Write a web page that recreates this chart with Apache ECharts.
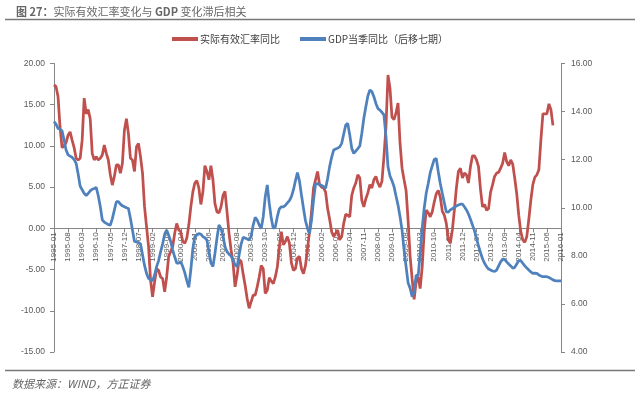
<!DOCTYPE html>
<html><head><meta charset="utf-8">
<script src="https://cdn.jsdelivr.net/npm/echarts@6/dist/echarts.min.js"></script>
<style>html,body{margin:0;padding:0;background:#fff}#c{width:640px;height:396px}</style>
</head><body><div id="c"></div>
<script>
// months 1995-01 .. 2016-01
const categories = [];
for (let y = 1995; y <= 2016; y++) {
  for (let m = 1; m <= 12; m++) {
    if (y === 2016 && m > 1) break;
    categories.push(y + '-' + (m < 10 ? '0' + m : m));
  }
}
const seriesNames = ['实际有效汇率同比', 'GDP当季同比（后移七期）'];
// 实际有效汇率同比 (left axis), 1995-01 .. 2015-09
const reerYoY = [
  17.4,17.2,16.0,12.3,9.8,10.0,10.4,11.3,11.7,10.7,9.8,8.5,
  8.3,8.5,10.7,15.8,13.9,14.4,13.3,9.1,8.3,8.7,8.3,8.5,
  8.9,10.1,9.1,8.3,6.5,5.25,6.3,7.7,7.7,6.7,7.9,11.9,
  13.3,11.5,8.5,8.3,6.9,9.9,10.3,8.7,6.7,2.6,0.2,-2.2,
  -6.3,-8.3,-6.5,-4.9,-5.1,-5.9,-6.1,-7.7,-5.9,-3.4,-2.8,-2.2,
  -0.6,0.6,-0.2,-0.4,-1.6,-1.8,-1.2,0.4,2.6,4.4,5.5,5.8,
  4.9,2.9,4.4,7.6,6.9,5.9,7.6,5.9,3.0,2.0,1.9,2.6,
  4.0,4.5,2.0,-0.6,-2.6,-4.2,-7.1,-5.7,-3.8,-4.0,-5.5,-6.9,
  -8.5,-9.7,-8.9,-8.1,-8.1,-7.1,-5.9,-4.5,-4.9,-7.9,-7.5,-6.0,
  -6.4,-6.7,-5.9,-4.7,-2.2,-0.4,-2.0,-1.6,-1.0,-1.8,-4.2,-5.1,
  -4.9,-3.6,-3.4,-4.9,-5.5,-4.5,-2.5,-0.4,2.0,4.9,5.9,6.9,
  5.3,5.0,4.9,4.4,2.4,1.1,-0.4,-1.0,-0.6,-0.2,-1.4,-1.0,
  0.6,1.7,1.6,1.4,4.0,4.9,5.5,6.5,6.1,3.4,2.6,3.6,
  4.3,5.3,4.9,5.9,6.3,5.5,5.0,5.7,8.7,12.3,18.6,17.0,
  13.5,13.2,14.0,15.2,10.3,7.3,5.9,4.6,1.0,-3.4,-6.1,-8.6,
  -6.5,-5.9,-7.3,-4.7,-0.4,2.2,1.9,1.4,2.0,3.2,4.2,4.6,
  3.8,2.1,1.6,0.6,-1.4,-1.8,-0.2,2.2,4.9,6.9,7.3,6.1,
  6.7,6.5,5.5,7.5,8.8,8.8,8.3,7.5,4.7,2.6,2.9,2.2,
  2.4,4.4,5.3,6.3,6.7,6.8,7.3,7.9,9.2,8.1,7.6,8.3,
  7.8,6.1,4.2,1.6,-0.4,-1.4,-1.7,-1.0,1.1,3.4,5.3,6.2,
  6.5,7.1,10.7,13.9,13.9,13.9,15.1,14.4,12.5
];
// GDP当季同比（后移七期） (right axis), 1995-01 .. 2016-01
const gdpYoY = [
  13.58,13.48,13.3,13.26,13.2,12.82,12.4,12.2,12.15,12.1,12.0,11.85,
  11.4,10.9,10.75,10.6,10.5,10.6,10.7,10.77,10.8,10.85,10.5,10.05,
  9.5,9.4,9.35,9.3,9.28,9.55,9.9,10.25,10.25,10.15,10.08,10.04,
  10.0,9.97,9.55,9.07,8.6,8.58,8.55,8.5,8.05,7.6,7.27,7.06,
  7.0,6.97,7.2,7.55,7.8,8.17,8.5,8.9,9.07,8.86,8.6,8.24,
  7.96,7.7,7.7,7.76,7.55,7.3,6.97,6.69,7.41,8.3,8.8,8.86,
  8.93,8.9,8.8,8.75,8.66,8.17,7.7,7.55,8.1,8.73,9.28,9.14,
  8.82,8.38,8.17,8.07,7.99,7.83,7.62,7.55,8.03,8.49,8.77,8.74,
  8.7,8.66,8.82,9.28,9.6,9.49,9.28,9.14,9.63,10.46,10.95,10.18,
  9.56,9.14,9.2,9.63,9.95,10.04,10.04,10.1,10.2,10.3,10.46,10.74,
  11.12,11.46,11.12,10.53,9.98,9.46,9.14,8.93,9.49,10.32,10.99,11.0,
  10.97,10.93,10.88,10.81,11.22,11.71,12.1,12.4,12.44,12.48,12.53,12.68,
  13.07,13.44,13.51,13.03,12.47,12.26,12.36,12.46,12.57,13.1,13.72,14.2,
  14.65,14.9,14.83,14.62,14.34,14.13,14.06,13.97,13.86,12.96,11.71,11.32,
  11.12,10.88,10.49,10.11,9.63,9.07,8.24,7.55,6.88,6.65,6.3,6.51,
  7.2,7.16,8.1,9.14,9.98,10.6,11.01,11.46,11.74,12.01,12.05,11.5,
  11.01,10.6,10.21,9.83,9.82,9.91,9.96,10.02,10.07,10.11,10.15,10.15,
  10.04,9.91,9.74,9.52,9.28,9.04,8.73,8.41,8.13,7.88,7.69,7.55,
  7.45,7.41,7.37,7.35,7.41,7.58,7.75,7.86,7.85,7.75,7.66,7.58,
  7.49,7.52,7.66,7.8,7.8,7.69,7.58,7.49,7.41,7.33,7.27,7.28,
  7.27,7.2,7.16,7.13,7.13,7.13,7.1,7.05,7.0,6.97,6.96,6.96,
  6.96
];
const leftTicks = {min: -15, max: 20, interval: 5};
const rightTicks = {min: 4, max: 16, interval: 2};

const gridTop = 63.5, gridBottom = 44, H = 396;
const plotH = H - gridTop - gridBottom;
// distance from bottom of grid up to the left axis zero line
const zeroOffset = plotH * (0 - leftTicks.min) / (leftTicks.max - leftTicks.min);

const chart = echarts.init(document.getElementById('c'), null, {renderer: 'canvas'});
const axisGray = '#868686';
const txtGray = '#595959';
chart.setOption({
  animation: false,
  backgroundColor: '#fff',
  title: {
    text: '{b|图 27：}实际有效汇率变化与 {b|GDP} 变化滞后相关',
    left: 11, top: 1,
    textStyle: {
      fontFamily: 'Noto Sans CJK SC', fontSize: 11, fontWeight: 'normal', color: '#666',
      rich: {b: {fontFamily: 'Noto Sans CJK SC', fontSize: 11, fontWeight: 'bold', color: '#666'}}
    }
  },
  graphic: [
    {type: 'line', shape: {x1: 5, y1: 19.5, x2: 635, y2: 19.5}, style: {stroke: '#777', lineWidth: 1.5}},
    {type: 'line', shape: {x1: 5, y1: 370.5, x2: 635, y2: 370.5}, style: {stroke: '#777', lineWidth: 1.5}},
    {type: 'text', left: 12, top: 378, style: {text: '数据来源：WIND，方正证券', fontFamily: 'Noto Sans CJK SC', fontSize: 11, fontStyle: 'italic', fill: '#666'}}
  ],
  legend: {
    data: seriesNames,
    left: 172, top: 34, padding: 0,
    icon: 'rect', itemWidth: 26, itemHeight: 4, itemGap: 20,
    textStyle: {fontFamily: 'Noto Sans CJK SC', fontSize: 10, color: '#404040', padding: [0, 0, 0, -3]}
  },
  grid: {left: 54, right: 79, top: gridTop, bottom: gridBottom, containLabel: false},
  xAxis: {
    type: 'category', data: categories, boundaryGap: false,
    position: 'bottom', offset: -zeroOffset,
    axisLine: {onZero: false, lineStyle: {color: axisGray, width: 1}},
    axisTick: {show: true, interval: 6, length: 4, lineStyle: {color: axisGray}},
    axisLabel: {interval: 6, rotate: 90, fontSize: 8, color: txtGray, fontFamily: 'Liberation Sans', margin: 4},
    splitLine: {show: false}
  },
  yAxis: [
    {type: 'value', position: 'left', min: leftTicks.min, max: leftTicks.max, interval: leftTicks.interval,
     axisLine: {show: true, lineStyle: {color: axisGray}},
     axisTick: {show: true, length: 4, lineStyle: {color: axisGray}},
     axisLabel: {formatter: v => v.toFixed(2), fontSize: 8.5, color: txtGray, fontFamily: 'Liberation Sans', margin: 9},
     splitLine: {show: false}},
    {type: 'value', position: 'right', min: rightTicks.min, max: rightTicks.max, interval: rightTicks.interval,
     axisLine: {show: true, lineStyle: {color: axisGray}},
     axisTick: {show: true, length: 4, lineStyle: {color: axisGray}},
     axisLabel: {formatter: v => v.toFixed(2), fontSize: 8.5, color: txtGray, fontFamily: 'Liberation Sans', margin: 10},
     splitLine: {show: false}}
  ],
  series: [
    {name: seriesNames[0], type: 'line', yAxisIndex: 0, data: reerYoY, showSymbol: false, symbol: 'none',
     lineStyle: {color: '#C0504D', width: 2.75}, itemStyle: {color: '#C0504D'}},
    {name: seriesNames[1], type: 'line', yAxisIndex: 1, data: gdpYoY, showSymbol: false, symbol: 'none',
     lineStyle: {color: '#4F81BD', width: 2.75}, itemStyle: {color: '#4F81BD'}}
  ]
});
</script></body></html>
